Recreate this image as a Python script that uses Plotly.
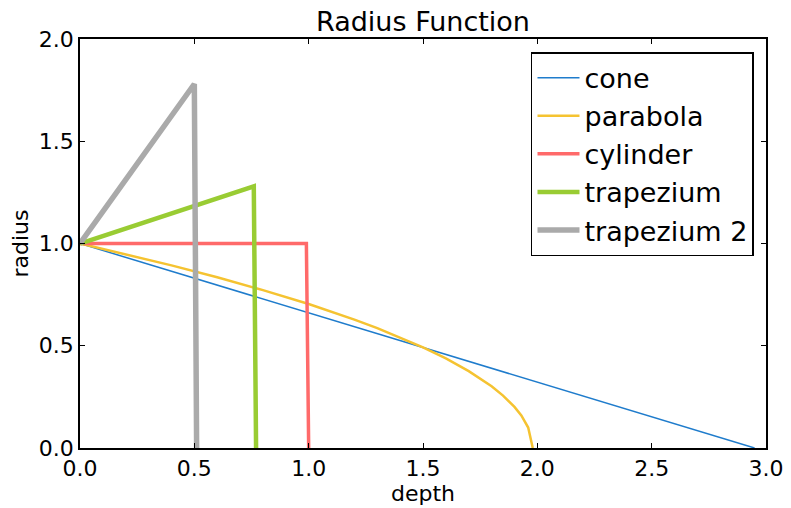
import plotly.graph_objects as go

# Data
cone_x = [0.0, 2.95]
cone_r = [1.0, 0.0]

parabola_x = [0.0, 0.2, 0.4, 0.6, 0.8, 1.0, 1.1, 1.2, 1.3, 1.4, 1.5, 1.6, 1.7, 1.8, 1.85, 1.9, 1.93, 1.96, 1.98]
parabola_r = [1.0, 0.948, 0.893, 0.835, 0.772, 0.704, 0.667, 0.628, 0.586, 0.541, 0.492, 0.438, 0.376, 0.302, 0.256, 0.201, 0.159, 0.10, 0.0]

cylinder_x = [0.0, 0.99, 1.0]
cylinder_r = [1.0, 1.0, 0.0]

trapezium_x = [0.0, 0.76, 0.77]
trapezium_r = [1.0, 1.28, 0.0]

trapezium2_x = [0.0, 0.5, 0.51]
trapezium2_r = [1.0, 1.78, 0.0]

series = [
    ("cone", cone_x, cone_r, "#1f7ccc", 1.5),
    ("parabola", parabola_x, parabola_r, "#f5c331", 2.5),
    ("cylinder", cylinder_x, cylinder_r, "#ff6a6a", 3.5),
    ("trapezium", trapezium_x, trapezium_r, "#99cc33", 4.5),
    ("trapezium 2", trapezium2_x, trapezium2_r, "#aaaaaa", 5.5),
]

x_ticks = [0.0, 0.5, 1.0, 1.5, 2.0, 2.5, 3.0]
y_ticks = [0.0, 0.5, 1.0, 1.5, 2.0]

FONT = "DejaVu Sans"

fig = go.Figure()
for name, xs, ys, color, w in series:
    fig.add_trace(go.Scatter(x=xs, y=ys, mode="lines", name=name,
                             line=dict(color=color, width=w)))

axis_common = dict(
    showgrid=False, zeroline=False, showline=True, linecolor="black", linewidth=1.5,
    mirror="allticks", ticks="inside", ticklen=5, tickwidth=1, tickcolor="black",
    tickfont=dict(family=FONT, size=22, color="black"), automargin=False,
)

fig.update_layout(
    width=791, height=508,
    margin=dict(l=80, r=25, t=39, b=60, autoexpand=False),
    paper_bgcolor="white", plot_bgcolor="white",
    font=dict(family=FONT, color="black"),
    title=dict(text="Radius Function", x=0.5 * (80 + 766) / 791, xanchor="center",
               y=0.958, yanchor="middle", font=dict(family=FONT, size=27, color="black")),
    xaxis=dict(range=[0, 3], tickvals=x_ticks, ticktext=[f"{v:.1f}" for v in x_ticks],
               title=dict(text="depth", font=dict(family=FONT, size=22), standoff=0),
               **axis_common),
    yaxis=dict(range=[0, 2], tickvals=y_ticks, ticktext=[f"{v:.1f}" for v in y_ticks],
               title=dict(text="radius", font=dict(family=FONT, size=22), standoff=4),
               **axis_common),
    legend=dict(x=0.9825, y=0.968, xanchor="right", yanchor="top",
                bgcolor="white", bordercolor="black", borderwidth=1.5,
                font=dict(family=FONT, size=27, color="black"),
                itemwidth=42, tracegroupgap=0),
    showlegend=True,
)

fig.write_html("out.html")
